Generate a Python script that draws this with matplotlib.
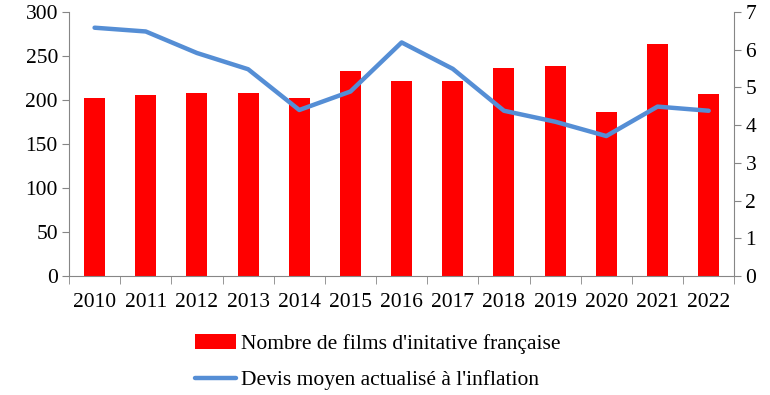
import numpy as np
import matplotlib.pyplot as plt
from matplotlib.ticker import FixedLocator

# Data
years = ['2010', '2011', '2012', '2013', '2014', '2015', '2016',
         '2017', '2018', '2019', '2020', '2021', '2022']
nb_films = [202, 206, 208, 208, 202, 233, 221, 221, 236, 239, 186, 264, 207]
devis_moyen = [6.58, 6.48, 5.91, 5.48, 4.40, 4.89, 6.19, 5.49, 4.38, 4.09, 3.71, 4.49, 4.38]

bar_label = "Nombre de films d'initative française"
line_label = "Devis moyen actualisé à l'inflation"


def main():
    plt.rcParams['font.family'] = ['Liberation Serif', 'DejaVu Serif']
    plt.rcParams['font.size'] = 15.5

    fig = plt.figure(figsize=(7.7, 3.95), dpi=100)
    ax = fig.add_axes([0.0896, 0.301, 0.864, 0.669])
    ax2 = ax.twinx()

    x = np.arange(len(years))
    bars = ax.bar(x, nb_films, width=0.41, color='#FF0000', label=bar_label)
    line, = ax2.plot(x, devis_moyen, color='#558ED5', linewidth=3.2,
                     solid_capstyle='round', label=line_label)

    ax.set_xlim(-0.5, len(years) - 0.5)
    ax.set_ylim(0, 300)
    ax.set_yticks(np.arange(0, 301, 50))
    ax2.set_ylim(0, 7)
    ax2.set_yticks(np.arange(0, 8, 1))

    # Category labels in the middle, tick marks on the boundaries
    ax.set_xticks(x)
    ax.set_xticklabels(years)
    ax.tick_params(axis='x', which='major', length=0, pad=12)
    ax.xaxis.set_minor_locator(FixedLocator(np.arange(-0.5, len(years), 1)))
    ax.tick_params(axis='x', which='minor', length=6, color='#868686')

    grey = '#868686'
    for a in (ax, ax2):
        a.spines['top'].set_visible(False)
        for s in ('left', 'right', 'bottom'):
            a.spines[s].set_color(grey)
    ax.spines['right'].set_visible(False)
    ax2.spines['left'].set_visible(False)
    ax2.spines['bottom'].set_visible(False)
    ax.tick_params(axis='y', length=5, color=grey, pad=3)
    ax2.tick_params(axis='y', length=5, color=grey, pad=3)

    fig.legend([bars, line], [bar_label, line_label], loc='upper left',
               bbox_to_anchor=(0.253, 0.155), frameon=False,
               handlelength=1.9, handletextpad=0.25, labelspacing=0.75,
               borderpad=0, borderaxespad=0)

    fig.savefig('out.png', dpi=100)


if __name__ == "__main__":
    main()
